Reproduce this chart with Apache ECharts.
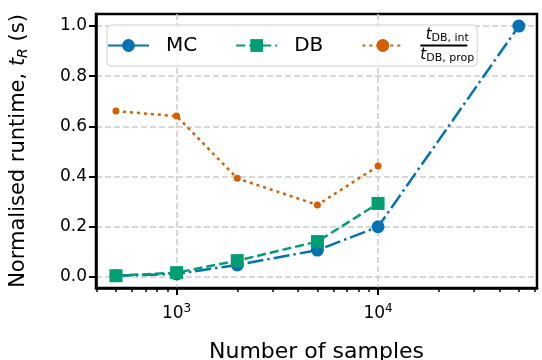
<!DOCTYPE html>
<html>
<head>
<meta charset="utf-8">
<script src="https://cdn.jsdelivr.net/npm/echarts@6/dist/echarts.min.js"></script>
<style>html,body{margin:0;padding:0;background:#fff}#c{width:542px;height:360px}</style>
</head>
<body>
<div id="c"></div>
<script>
const samples = [500, 1000, 2000, 5000, 10000, 50000];
const mcValues = [0.005, 0.012, 0.048, 0.107, 0.200, 1.000];
const dbValues = [0.005, 0.017, 0.065, 0.141, 0.293];
const ratioValues = [0.661, 0.641, 0.393, 0.287, 0.442];
const yTicks = [0, 0.2, 0.4, 0.6, 0.8, 1.0];
const xMajorTicks = [1000, 10000];
const xMinorTicks = [400, 500, 600, 700, 800, 900, 2000, 3000, 4000, 5000, 6000, 7000, 8000, 9000, 20000, 30000, 40000, 50000, 60000];

const FONT = 'DejaVu Sans';
const C_MC = '#0173b2', C_DB = '#029e73', C_R = '#d55e00';

const chart = echarts.init(document.getElementById('c'), null, {renderer: 'canvas'});
const pair = (xs, ys) => ys.map((v, i) => [xs[i], v]);

chart.setOption({
  backgroundColor: '#fff',
  animation: false,
  textStyle: {fontFamily: FONT},
  grid: {left: 96, top: 14, width: 441, height: 274, show: true, borderColor: '#000', borderWidth: 2.5,
    containLabel: false, outerBoundsMode: 'none'},
  legend: {
    left: 107, top: 25,
    orient: 'horizontal',
    itemWidth: 41, itemHeight: 16, itemGap: 38,
    padding: [2, 3, 2, 0],
    borderColor: '#d0d0d0', borderWidth: 1, borderRadius: 4,
    backgroundColor: 'rgba(255,255,255,0.8)',
    textStyle: {fontFamily: FONT, fontSize: 20, color: '#000', padding: [0, 0, 0, 12]},
    data: ['MC', 'DB', 'ratio'],
    formatter: function (name) {
      if (name === 'ratio') {
        return '{n|t}{ns|DB, int}\n{bar|}\n{d|t}{ds|DB, prop}';
      }
      return name;
    }
  },
  xAxis: [{
    type: 'log', logBase: 10, min: 398, max: 61500, position: 'bottom',
    axisLine: {show: true, onZero: false, lineStyle: {color: '#000', width: 2.5}},
    axisTick: {show: true, customValues: xMajorTicks, length: 7, lineStyle: {color: '#000', width: 2}},
    axisLabel: {
      customValues: xMajorTicks, margin: 15, color: '#000', fontFamily: FONT, fontSize: 17,
      formatter: function (v) { return '{b|10}{s|' + Math.round(Math.log10(v)) + '}'; },
      rich: {b: {fontSize: 17, fontFamily: FONT, color: '#000'}, s: {fontSize: 12, fontFamily: FONT, color: '#000', padding: [0, 0, 9, 0]}}
    },
    splitLine: {show: true, lineStyle: {color: '#cccccc', type: [6, 3], width: 1.5}},
    name: 'Number of samples', nameLocation: 'middle', nameGap: 53,
    nameTextStyle: {fontSize: 22, fontFamily: FONT, color: '#000'}
  }, {
    type: 'log', logBase: 10, min: 398, max: 61500, position: 'bottom',
    axisLine: {show: false, onZero: false},
    axisTick: {show: true, customValues: xMinorTicks, length: 4, lineStyle: {color: '#000', width: 1.5}},
    axisLabel: {show: false},
    splitLine: {show: false}
  }],
  yAxis: {
    type: 'value', min: -0.044, max: 1.048,
    axisLine: {show: true, onZero: false, lineStyle: {color: '#000', width: 2.5}},
    axisTick: {show: true, customValues: yTicks, length: 7, lineStyle: {color: '#000', width: 2}},
    axisLabel: {customValues: yTicks, margin: 9, color: '#000', fontFamily: FONT, fontSize: 17,
      formatter: v => v.toFixed(1)},
    splitLine: {show: true, lineStyle: {color: '#cccccc', type: [6, 3], width: 1.5}},
    name: '{a|Normalised runtime, }{t|t}{r|R}{a| (s)}', nameLocation: 'middle', nameGap: 66,
    nameTextStyle: {
      fontSize: 21, fontFamily: FONT, color: '#000',
      rich: {
        a: {fontSize: 21, fontFamily: FONT, color: '#000'},
        t: {fontSize: 21, fontFamily: FONT, fontStyle: 'italic', color: '#000'},
        r: {fontSize: 14, fontFamily: FONT, fontStyle: 'italic', color: '#000', padding: [8, 0, 0, 0]}
      }
    }
  },
  series: [{
    name: 'MC', type: 'line', data: pair(samples, mcValues),
    symbol: 'circle', symbolSize: 13,
    itemStyle: {color: C_MC},
    lineStyle: {color: C_MC, width: 2.5, type: [16, 4, 2.5, 4]},
    z: 2
  }, {
    name: 'DB', type: 'line', data: pair(samples, dbValues),
    symbol: 'rect', symbolSize: 13,
    itemStyle: {color: C_DB},
    lineStyle: {color: C_DB, width: 2.5, type: [9, 4]},
    z: 3
  }, {
    name: 'ratio', type: 'line', data: pair(samples, ratioValues),
    symbol: 'circle', symbolSize: 7,
    itemStyle: {color: C_R},
    lineStyle: {color: C_R, width: 2.5, type: [3, 4]},
    z: 4
  }]
});

chart.setOption({legend: {textStyle: {rich: {
  n: {fontSize: 15, fontFamily: FONT, fontStyle: 'italic', color: '#000', align: 'center', lineHeight: 15},
  ns: {fontSize: 11, fontFamily: FONT, color: '#000', align: 'center', padding: [6, 0, 0, 0], lineHeight: 15},
  bar: {width: 47, height: 2, backgroundColor: '#000', lineHeight: 5},
  d: {fontSize: 15, fontFamily: FONT, fontStyle: 'italic', color: '#000', align: 'center', lineHeight: 15},
  ds: {fontSize: 11, fontFamily: FONT, color: '#000', align: 'center', padding: [6, 0, 0, 0], lineHeight: 15}
}}}});
</script>
</body>
</html>
